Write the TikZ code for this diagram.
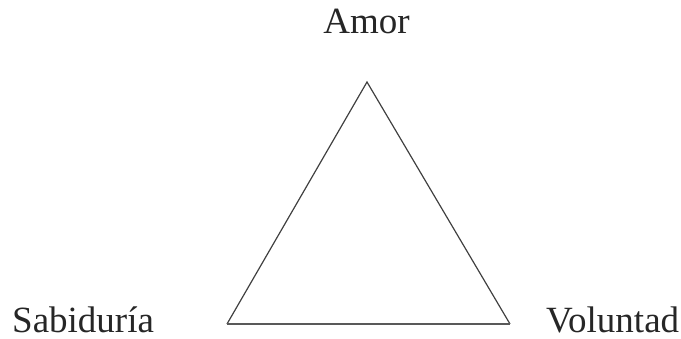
\documentclass[tikz,border=0pt]{standalone}
\usepackage{fontspec}
\setmainfont{Liberation Serif}
\begin{document}
\begin{tikzpicture}[x=1pt,y=1pt,
  lbl/.style={inner sep=0pt,font=\fontsize{37}{40}\selectfont,text=black!85},
  side/.style={draw=black!75,line width=1.2pt,line join=miter}]
\useasboundingbox (0,0) rectangle (681,339);
\coordinate (top) at (367,257);
\coordinate (bl) at (227,15);
\coordinate (br) at (510,15);
\draw[side] (bl) -- (top) -- (br);
\draw[side,line width=2pt,draw=black!65] (bl) -- (br);
\node[lbl,anchor=base] (amor) at (366.5,305) {Amor};
\node[lbl,anchor=base west] (sab) at (12,6.5) {Sabiduría};
\node[lbl,anchor=base west] (vol) at (546,6.5) {Voluntad};
\end{tikzpicture}
\end{document}
